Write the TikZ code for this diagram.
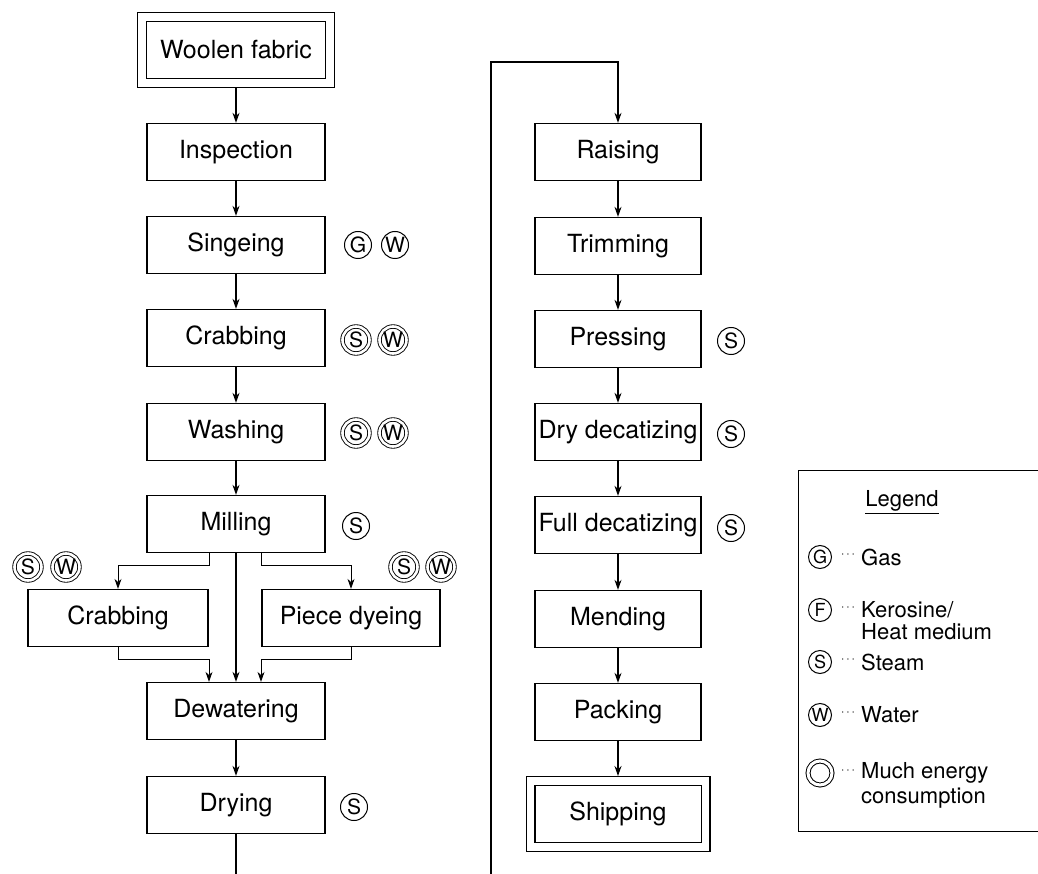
\documentclass[tikz,border=0pt]{standalone}
\usepackage{fontspec}
\setmainfont{TeX Gyre Heros}
\usetikzlibrary{arrows.meta}

\begin{document}
\begin{tikzpicture}[x=1pt,y=-1pt]
\tikzstyle{every node}=[inner sep=0pt]
\tikzstyle{proc}=[draw, line width=1.3pt, minimum width=178pt, minimum height=57pt, font=\fontsize{25}{28}\selectfont]
\tikzstyle{rproc}=[proc, minimum width=166pt]
\tikzstyle{term}=[proc, double, double distance=7.4pt, outer sep=5pt]
\tikzstyle{ico}=[draw, circle, line width=1pt, minimum size=27pt, font=\fontsize{21}{21}\selectfont]
\tikzstyle{much}=[ico, double, double distance=2.6pt, line width=0.9pt]
\tikzstyle{arr}=[line width=1.3pt, -{Stealth[length=10pt,width=7pt]}]
\tikzstyle{tarr}=[arr, line width=0.8pt]
\tikzstyle{ltxt}=[font=\fontsize{22}{24}\selectfont]
\tikzstyle{lico}=[draw, circle, line width=1pt, minimum size=23pt, font=\fontsize{18}{18}\selectfont]
\tikzstyle{ldots}=[font=\fontsize{12}{12}\selectfont]

\useasboundingbox (0,0) rectangle (1038,874);

% first half of the process
\node[term, minimum width=188pt, minimum height=66pt] (woolen) at (236,50) {Woolen fabric};
\node[proc] (inspect) at (236,152) {Inspection};
\node[proc] (singe) at (236,245) {Singeing};
\node[proc] (crab) at (236,338) {Crabbing};
\node[proc] (wash) at (236,432) {Washing};
\node[proc] (mill) at (236,524) {Milling};
\node[proc, minimum width=180pt] (crab2) at (118,618) {Crabbing};
\node[proc] (dye) at (351,618) {Piece dyeing};
\node[proc] (dewater) at (236,711) {Dewatering};
\node[proc] (dry) at (236,805) {Drying};

\node[ico] (singeg) at (358,245) {G};
\node[ico] (singew) at (395,245) {W};
\node[much] (crabs) at (356,340) {S};
\node[much] (crabw) at (393,340) {W};
\node[much] (washs) at (356,433) {S};
\node[much] (washw) at (393,433) {W};
\node[ico] (mills) at (356,526) {S};
\node[much] (crab2s) at (28,567) {S};
\node[much] (crab2w) at (66,567) {W};
\node[much] (dyes) at (404,567) {S};
\node[much] (dyew) at (441,567) {W};
\node[ico] (drys) at (354,807) {S};

\draw[arr] (woolen.south) -- (inspect.north);
\draw[arr] (inspect) -- (singe);
\draw[arr] (singe) -- (crab);
\draw[arr] (crab) -- (wash);
\draw[arr] (wash) -- (mill);
\draw[arr] (mill) -- (dewater);
\draw[tarr] ([xshift=-27pt]mill.south) -- ++(0,12) -| (crab2.north);
\draw[tarr] ([xshift=25pt]mill.south) -- ++(0,12) -| (dye.north);
\draw[tarr] (crab2.south) -- ++(0,12) -| ([xshift=-27pt]dewater.north);
\draw[tarr] (dye.south) -- ++(0,12) -| ([xshift=25pt]dewater.north);
\draw[arr] (dewater) -- (dry);
\coordinate (dryend) at (236,880);
\draw[line width=1.3pt] (dry.south) -- (dryend);

% second half
\node[rproc] (raise) at (618,152) {Raising};
\node[rproc] (trim) at (618,246) {Trimming};
\node[rproc] (press) at (618,339) {Pressing};
\node[rproc] (drydec) at (618,432) {Dry decatizing};
\node[rproc] (fulldec) at (618,525) {Full decatizing};
\node[rproc] (mend) at (618,619) {Mending};
\node[rproc] (pack) at (618,712) {Packing};
\node[term, minimum width=175pt, minimum height=66pt] (ship) at (618,814) {Shipping};

\node[ico] (press s) at (731,341) {S};
\node[ico] (drydec s) at (731,434) {S};
\node[ico] (fulldec s) at (731,528) {S};

\coordinate (back) at (491,880);
\coordinate (turn) at (618,62);
\draw[arr] (back) |- (turn) -- (raise.north);
\draw[arr] (raise) -- (trim);
\draw[arr] (trim) -- (press);
\draw[arr] (press) -- (drydec);
\draw[arr] (drydec) -- (fulldec);
\draw[arr] (fulldec) -- (mend);
\draw[arr] (mend) -- (pack);
\draw[arr] (pack.south) -- (ship.north);

% legend
\draw[line width=1pt] (1045,470) -- (798,470) -- (798,831) -- (1045,831);
\node[ltxt] (legtitle) at (902,502) {\underline{Legend}};
\node[lico] (lg) at (820,557) {G};
\node[ldots] at (848,555) {$\cdots$};
\node[ltxt, anchor=west] (lgas) at (861,557) {Gas};
\node[lico] (lf) at (820,610) {F};
\node[ldots] at (848,608) {$\cdots$};
\node[ltxt, anchor=west] (lkero) at (861,610) {Kerosine/};
\node[ltxt, anchor=west] (lheat) at (861,632) {Heat medium};
\node[lico] (ls) at (820,662) {S};
\node[ldots] at (848,660) {$\cdots$};
\node[ltxt, anchor=west] (lsteam) at (861,662) {Steam};
\node[lico] (lw) at (820,715) {W};
\node[ldots] at (848,713) {$\cdots$};
\node[ltxt, anchor=west] (lwater) at (861,715) {Water};
\node[lico, double, double distance=3pt, minimum size=24pt] (lm) at (820,773) {};
\node[ldots] at (848,771) {$\cdots$};
\node[ltxt, anchor=west] (lmuch) at (861,773) {Much energy};
\node[ltxt, anchor=west] (lcons) at (861,798) {consumption};
\end{tikzpicture}
\end{document}
